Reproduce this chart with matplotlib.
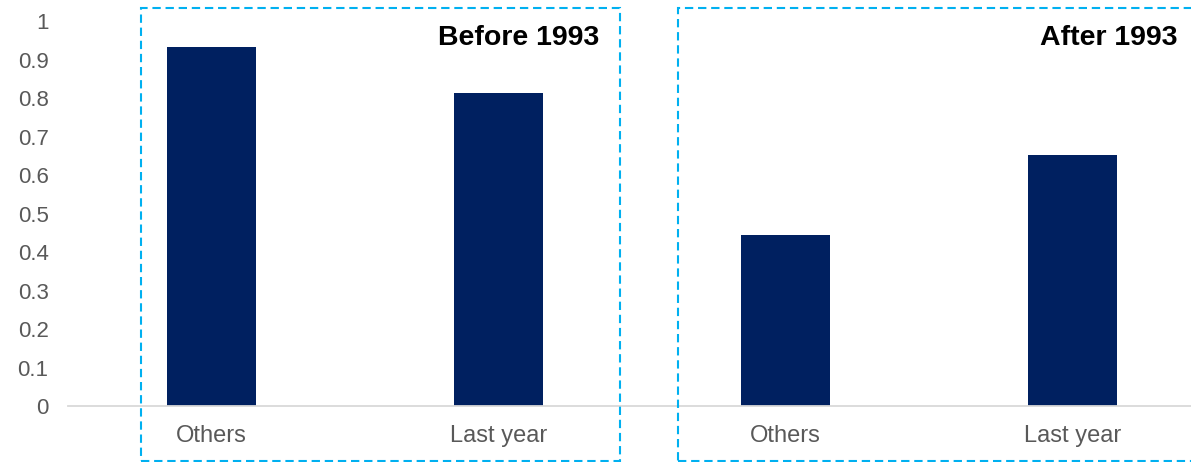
import matplotlib.pyplot as plt
from matplotlib.patches import Rectangle

plt.rcParams['font.family'] = ['Liberation Sans', 'DejaVu Sans']

categorias = ["Others", "Last year", "Others", "Last year"]
valores = [0.932, 0.813, 0.444, 0.652]
periodos = ["Before 1993", "After 1993"]

azul = "#002060"
celeste = "#00B0F0"
gris = "#595959"

fig = plt.figure(figsize=(11.91, 4.62), dpi=100)
ax = fig.add_axes([0.0571, 0.1212, 0.9429, 0.8333])

x = list(range(len(valores)))
ax.bar(x, valores, width=0.313, color=azul, zorder=2)

ax.set_xlim(-0.5, 3.413)
ax.set_ylim(0, 1)
ax.set_yticks([i / 10 for i in range(11)])
ax.set_yticklabels(["0"] + ["0.%d" % i for i in range(1, 10)] + ["1"])
ax.set_xticks(x)
ax.set_xticklabels(categorias)
ax.tick_params(axis="y", length=0, pad=14, labelsize=16, labelcolor=gris)
ax.tick_params(axis="x", length=0, pad=14, labelsize=17, labelcolor=gris)

for lado in ["left", "top", "right"]:
    ax.spines[lado].set_visible(False)
ax.spines["bottom"].set_color("#D9D9D9")
ax.spines["bottom"].set_linewidth(1.3)

# recuadros punteados de cada periodo
cajas = [(-0.247, 1.425), (1.627, 3.45)]
for (x0, x1), texto in zip(cajas, periodos):
    ax.add_patch(Rectangle((x0, -0.143), x1 - x0, 1.177, fill=False,
                           edgecolor=celeste, linewidth=1.5,
                           linestyle=(0, (4, 2.3)), clip_on=False, zorder=3))

ax.text(1.352, 0.99, periodos[0], ha="right", va="top",
        fontsize=20.5, fontweight="bold", color="black")
ax.text(3.366, 0.99, periodos[1], ha="right", va="top",
        fontsize=20.5, fontweight="bold", color="black")

fig.savefig("out.png", dpi=100)
